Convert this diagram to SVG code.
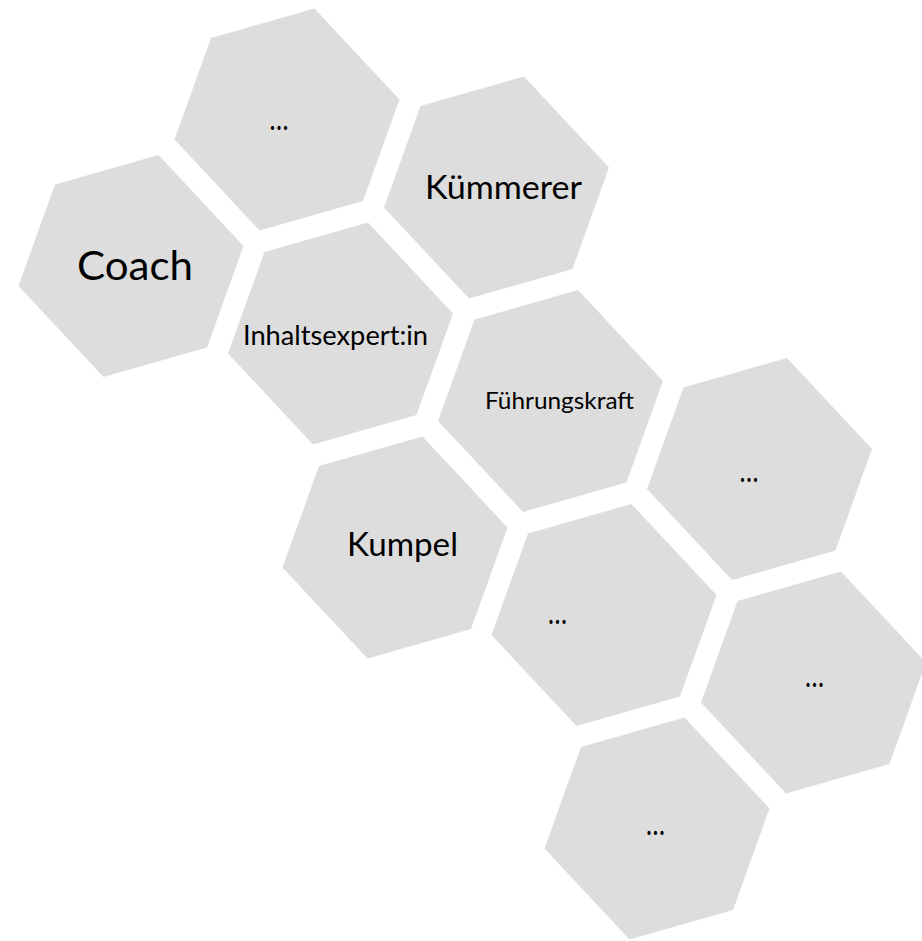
<svg xmlns="http://www.w3.org/2000/svg" xmlns:xlink="http://www.w3.org/1999/xlink" width="922" height="941" viewBox="0 0 922 941">
  <style>
    .hex { fill: #DDDDDD; stroke: none; }
    .lbl { font-family: Lato, "Open Sans", "Liberation Sans", sans-serif; fill: #000000; text-anchor: middle; }
  </style>
  <defs>
    <polygon id="hex" class="hex" points="27.5,-111 -76,-81.5 -112.5,20 -27.5,111 76,81.5 112.5,-20"/>
  </defs>
  <rect x="0" y="0" width="922" height="941" fill="#FFFFFF"/>
  <g id="connectors"/>
  <g id="node-coach">
    <use xlink:href="#hex" href="#hex" transform="translate(131,266)"/>
    <text class="lbl" x="135" y="280" font-size="40.5" textLength="116" lengthAdjust="spacingAndGlyphs">Coach</text>
  </g>
  <g id="node-dots-1">
    <use xlink:href="#hex" href="#hex" transform="translate(287,119.5)"/>
    <text class="lbl" x="279" y="130" font-size="32" textLength="19" lengthAdjust="spacingAndGlyphs">…</text>
  </g>
  <g id="node-kuemmerer">
    <use xlink:href="#hex" href="#hex" transform="translate(496.5,187.5)"/>
    <text class="lbl" x="503.5" y="199" font-size="32.4" textLength="157" lengthAdjust="spacingAndGlyphs">Kümmerer</text>
  </g>
  <g id="node-inhaltsexpertin">
    <use xlink:href="#hex" href="#hex" transform="translate(340.5,333.5)"/>
    <text class="lbl" x="335.5" y="345" font-size="26" textLength="185" lengthAdjust="spacingAndGlyphs">Inhaltsexpert:in</text>
  </g>
  <g id="node-fuehrungskraft">
    <use xlink:href="#hex" href="#hex" transform="translate(550.5,401)"/>
    <text class="lbl" x="559.5" y="409" font-size="23.4" textLength="149" lengthAdjust="spacingAndGlyphs">Führungskraft</text>
  </g>
  <g id="node-kumpel">
    <use xlink:href="#hex" href="#hex" transform="translate(395,547.5)"/>
    <text class="lbl" x="402.5" y="556" font-size="32.4" textLength="111" lengthAdjust="spacingAndGlyphs">Kumpel</text>
  </g>
  <g id="node-dots-2">
    <use xlink:href="#hex" href="#hex" transform="translate(759.5,469)"/>
    <text class="lbl" x="749" y="482" font-size="32" textLength="19" lengthAdjust="spacingAndGlyphs">…</text>
  </g>
  <g id="node-dots-3">
    <use xlink:href="#hex" href="#hex" transform="translate(604,615)"/>
    <text class="lbl" x="557.5" y="624" font-size="32" textLength="19" lengthAdjust="spacingAndGlyphs">…</text>
  </g>
  <g id="node-dots-4">
    <use xlink:href="#hex" href="#hex" transform="translate(813.5,682.5)"/>
    <text class="lbl" x="814.5" y="687" font-size="32" textLength="19" lengthAdjust="spacingAndGlyphs">…</text>
  </g>
  <g id="node-dots-5">
    <use xlink:href="#hex" href="#hex" transform="translate(657,828.5)"/>
    <text class="lbl" x="655.5" y="835" font-size="32" textLength="19" lengthAdjust="spacingAndGlyphs">…</text>
  </g>
</svg>
